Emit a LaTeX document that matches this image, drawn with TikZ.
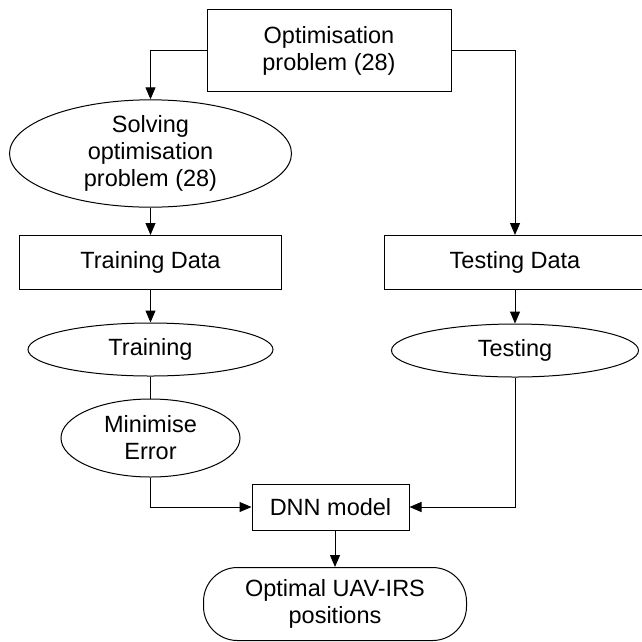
\documentclass[tikz,border=0pt]{standalone}
\usepackage{fontspec}
\setmainfont{Liberation Sans}
\usetikzlibrary{shapes.geometric,arrows.meta}
\begin{document}
\begin{tikzpicture}[x=1pt,y=-1pt, line width=1pt,
    font=\fontsize{23.5}{27}\selectfont,
    box/.style={draw, rectangle, inner sep=0pt, align=center},
    oval/.style={draw, ellipse, inner sep=0pt, align=center},
    arr/.style={-{Triangle[length=12pt,width=10pt]}}]
    \useasboundingbox (0,0) rectangle (642,641);
    \node[box, minimum width=244pt, minimum height=82pt] (prob) at (329,50.5) {Optimisation\\problem (28)};
    \node[oval, minimum width=282pt, minimum height=99pt] (solve) at (150.5,153.5) {Solving\\optimisation\\problem (28)};
    \node[box, minimum width=262pt, minimum height=54pt] (trdata) at (150.5,262.5) {Training Data};
    \node[box, minimum width=261pt, minimum height=54pt] (tedata) at (515,262.5) {Testing Data};
    \node[oval, minimum width=245pt, minimum height=53pt] (train) at (150.5,349.5) {Training};
    \node[oval, minimum width=247pt, minimum height=53pt] (test) at (515,350.5) {Testing};
    \node[oval, minimum width=179pt, minimum height=78pt] (minerr) at (150.5,438) {Minimise\\Error};
    \node[box, minimum width=157pt, minimum height=46pt] (dnn) at (330.5,507) {DNN model};
    \node[box, rounded corners=34pt, minimum width=263pt, minimum height=73pt] (opt) at (335,604) {Optimal UAV-IRS\\positions};
    \draw[arr] (prob.west) -| (solve.north);
    \draw[arr] (prob.east) -| (tedata.north);
    \draw[arr] (solve) -- (trdata);
    \draw[arr] (trdata) -- (train);
    \draw[arr] (tedata) -- (test);
    \draw (train) -- (minerr);
    \draw[arr] (minerr.south) |- (dnn.west);
    \draw[arr] (test.south) |- (dnn.east);
    \draw[arr] (dnn.south -| opt.north) -- (opt.north);
\end{tikzpicture}
\end{document}
